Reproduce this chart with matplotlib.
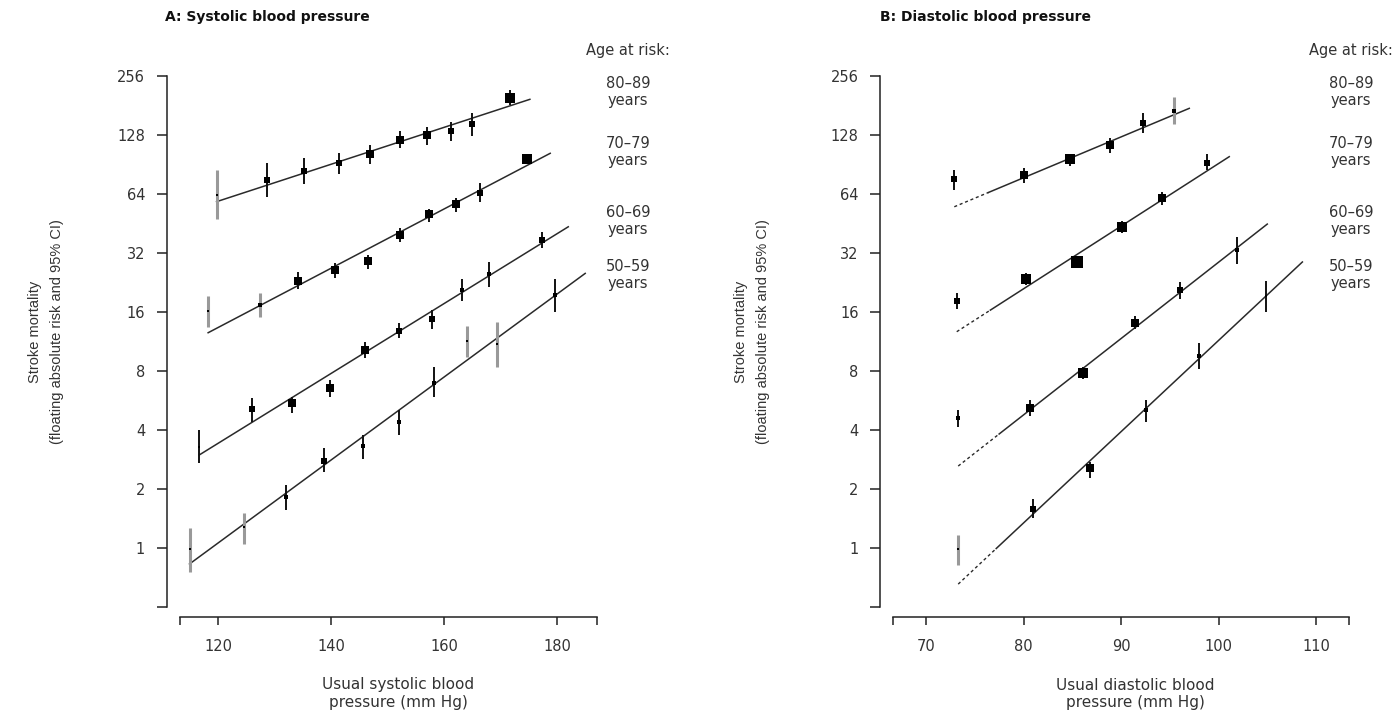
import numpy as np
import matplotlib
matplotlib.use("Agg")
import matplotlib.pyplot as plt

# ---------------- data ----------------
# Panel A: systolic blood pressure (mm Hg) vs stroke mortality, by age group
sbp_80 = [119.7, 128.6, 135.2, 141.3, 146.9, 152.2, 156.9, 161.3, 165.0, 171.7]
risk_s80 = [63.0, 75.1, 83.6, 92.1, 102.1, 120.3, 127.5, 133.7, 144.6, 197.7]
lo_s80 = [47.6, 61.8, 71.7, 80.7, 90.7, 109.0, 113.4, 118.9, 126.0, 181.4]
hi_s80 = [84.7, 91.5, 97.3, 103.6, 113.4, 134.0, 140.6, 149.0, 164.6, 216.5]

sbp_70 = [118.2, 127.3, 134.2, 140.6, 146.6, 152.2, 157.4, 162.1, 166.4, 174.6]
risk_s70 = [16.1, 17.3, 23.0, 26.1, 29.0, 39.5, 50.2, 56.7, 64.8, 95.9]
lo_s70 = [13.3, 15.1, 20.8, 23.7, 26.4, 36.4, 46.1, 51.8, 58.3, 90.7]
hi_s70 = [19.3, 20.0, 25.6, 28.3, 31.1, 42.6, 53.3, 60.6, 72.3, 100.8]

sbp_60 = [116.6, 126.0, 133.1, 139.8, 146.0, 152.1, 157.8, 163.1, 168.0, 177.3]
risk_s60 = [3.25, 5.08, 5.45, 6.55, 10.2, 12.8, 14.7, 20.6, 24.9, 37.1]
lo_s60 = [2.70, 4.39, 4.88, 5.89, 9.25, 11.7, 13.1, 18.2, 21.5, 33.7]
hi_s60 = [3.99, 5.78, 5.89, 7.17, 11.25, 14.06, 16.3, 23.4, 28.8, 41.0]

sbp_50 = [114.9, 124.6, 132.0, 138.8, 145.7, 152.1, 158.2, 164.0, 169.3, 179.6]
risk_s50 = [0.98, 1.27, 1.82, 2.78, 3.32, 4.39, 6.95, 11.3, 11.0, 19.5]
lo_s50 = [0.754, 1.04, 1.56, 2.44, 2.83, 3.76, 5.89, 9.36, 8.33, 15.9]
hi_s50 = [1.26, 1.51, 2.09, 3.22, 3.76, 5.04, 8.33, 13.5, 14.2, 23.4]

# fitted lines (end points, x in mm Hg, y in risk)
fit_sx = [[119.7, 175.2], [118.2, 178.8], [116.6, 182.0], [114.9, 185.0]]
fit_sy = [[58.3, 194.0], [12.5, 102.9], [2.97, 43.4], [0.826, 25.1]]

# Panel B: diastolic blood pressure
dbp_80 = [72.9, 80.05, 84.8, 88.9, 92.3, 95.4]
risk_d80 = [75.8, 79.7, 95.9, 113.4, 147.4, 169.7]
lo_d80 = [66.7, 72.8, 88.6, 102.9, 131.0, 145.0]
hi_d80 = [84.3, 86.3, 101.7, 122.7, 164.6, 200.0]

dbp_70 = [73.15, 80.3, 85.5, 90.1, 94.2, 98.8]
risk_d70 = [18.2, 23.5, 28.8, 43.1, 60.6, 92.1]
lo_d70 = [16.5, 21.8, 27.0, 40.3, 56.0, 84.6]
hi_d70 = [20.0, 25.3, 30.7, 46.2, 65.5, 102.0]

dbp_60 = [73.3, 80.7, 86.1, 91.4, 96.05, 101.9]
risk_d60 = [4.57, 5.14, 7.81, 14.06, 20.6, 33.0]
lo_d60 = [4.11, 4.70, 7.30, 13.1, 18.5, 28.0]
hi_d60 = [5.04, 5.66, 8.40, 15.2, 22.8, 38.5]

dbp_50 = [73.3, 81.0, 86.8, 92.6, 98.0, 104.9]
risk_d50 = [0.98, 1.58, 2.54, 5.04, 9.51, 19.3]
lo_d50 = [0.816, 1.41, 2.26, 4.39, 8.13, 16.0]
hi_d50 = [1.16, 1.77, 2.75, 5.67, 11.1, 23.0]

fit_dx = [[72.9, 97.0], [73.15, 101.1], [73.3, 105.0], [73.3, 108.6]]
fit_dy = [[54.9, 174.5], [12.65, 98.9], [2.61, 44.8], [0.652, 28.7]]
fit_d_solid_from = [76.4, 76.6, 77.5, 77.2]

age_groups = ["80\u201389", "70\u201379", "60\u201369", "50\u201359"]
y_ticks = [0.5, 1, 2, 4, 8, 16, 32, 64, 128, 256]
y_ticklabels = ["", "1", "2", "4", "8", "16", "32", "64", "128", "256"]
sx_ticks = [113.2, 120, 140, 160, 180, 187.1]
sx_ticklabels = ["", "120", "140", "160", "180", ""]
dx_ticks = [66.6, 70, 80, 90, 100, 110, 113.4]
dx_ticklabels = ["", "70", "80", "90", "100", "110", ""]

# ---------------- styles ----------------
# square side (px) and grey-CI flags
s_size = [[1.5, 5, 6, 6, 7, 8, 7, 6, 5, 10],
          [1.5, 3, 7, 8, 8, 8, 8, 7, 6, 10],
          [2, 5, 7, 7, 7, 6, 5, 4, 3, 6],
          [1.5, 2, 4, 5, 4, 3, 3, 2, 1.5, 3]]
s_grey = [[1, 0, 0, 0, 0, 0, 0, 0, 0, 0],
          [1, 1, 0, 0, 0, 0, 0, 0, 0, 0],
          [0, 0, 0, 0, 0, 0, 0, 0, 0, 0],
          [1, 1, 0, 0, 0, 0, 0, 1, 1, 0]]
d_size = [[6, 8, 9, 7, 6, 4],
          [6, 9, 11, 9, 7, 6],
          [4, 7, 9, 7, 5, 3],
          [2, 6, 7, 3, 3, 2]]
d_grey = [[0, 0, 0, 0, 0, 1],
          [0, 0, 0, 0, 0, 0],
          [0, 0, 0, 0, 0, 0],
          [1, 0, 0, 0, 0, 0]]

TXT = "#333333"
W, H = 1400, 713
fig = plt.figure(figsize=(W / 100, H / 100), dpi=100)


def px_axes(l, t, r, b):
    return fig.add_axes([l / W, 1 - b / H, (r - l) / W, (b - t) / H])


def style_axes(ax, xlim, xticks, xticklabels):
    ax.set_yscale("log", base=2)
    ax.set_ylim(0.441, 273.8)
    ax.set_xlim(*xlim)
    ax.patch.set_visible(False)
    for s in ("top", "right"):
        ax.spines[s].set_visible(False)
    ax.spines["left"].set_bounds(y_ticks[0], y_ticks[-1])
    ax.spines["bottom"].set_bounds(xticks[0], xticks[-1])
    for s in ("left", "bottom"):
        ax.spines[s].set_linewidth(1.1)
        ax.spines[s].set_color("#222222")
    ax.set_yticks(y_ticks)
    ax.set_yticklabels(y_ticklabels)
    ax.yaxis.set_minor_locator(matplotlib.ticker.NullLocator())
    ax.set_xticks(xticks)
    ax.set_xticklabels(xticklabels)
    ax.tick_params(axis="y", length=7.5, width=1.1, pad=8, labelsize=10.5,
                   labelcolor=TXT, color="#222222")
    ax.tick_params(axis="x", length=5.5, width=1.1, pad=10, labelsize=10.5,
                   labelcolor=TXT, color="#222222")


def draw_points(ax, xs, ys, los, his, sizes, greys):
    for x, y, lo, hi, sz, g in zip(xs, ys, los, his, sizes, greys):
        if g:
            ax.vlines(x, lo, hi, colors="#999999", linewidth=2.2, zorder=2)
        else:
            ax.vlines(x, lo, hi, colors="#111111", linewidth=1.4, zorder=2)
        ax.scatter([x], [y], marker="s", s=((sz + 1) / 1.389) ** 2, c="black",
                   linewidths=0, zorder=3)


axA = px_axes(166.7, 70, 600, 617.4)
axB = px_axes(880, 70, 1360, 617.4)
style_axes(axA, (110.86, 187.62), sx_ticks, sx_ticklabels)
style_axes(axB, (65.28, 114.51), dx_ticks, dx_ticklabels)

sys_sets = [(sbp_80, risk_s80, lo_s80, hi_s80), (sbp_70, risk_s70, lo_s70, hi_s70),
            (sbp_60, risk_s60, lo_s60, hi_s60), (sbp_50, risk_s50, lo_s50, hi_s50)]
dia_sets = [(dbp_80, risk_d80, lo_d80, hi_d80), (dbp_70, risk_d70, lo_d70, hi_d70),
            (dbp_60, risk_d60, lo_d60, hi_d60), (dbp_50, risk_d50, lo_d50, hi_d50)]

for i, (xs, ys, los, his) in enumerate(sys_sets):
    axA.plot(fit_sx[i], fit_sy[i], color="#2a2a2a", linewidth=1.1, zorder=1)
    draw_points(axA, xs, ys, los, his, s_size[i], s_grey[i])

for i, (xs, ys, los, his) in enumerate(dia_sets):
    x0, x1 = fit_dx[i]
    ly0, ly1 = np.log2(fit_dy[i])
    xm = fit_d_solid_from[i]
    ym = 2 ** (ly0 + (ly1 - ly0) * (xm - x0) / (x1 - x0))
    axB.plot([x0, xm], [fit_dy[i][0], ym], color="#2a2a2a", linewidth=1.0,
             linestyle=(0, (2.2, 2.0)), zorder=1)
    axB.plot([xm, x1], [ym, fit_dy[i][1]], color="#2a2a2a", linewidth=1.1, zorder=1)
    draw_points(axB, xs, ys, los, his, d_size[i], d_grey[i])

# ---------------- text ----------------
def ft(x, y, s, **kw):
    fig.text(x / W, 1 - y / H, s, **kw)

ft(165, 17, "A: Systolic blood pressure", fontsize=10, fontweight="bold",
   color="#111111", va="center", ha="left")
ft(880, 17, "B: Diastolic blood pressure", fontsize=10, fontweight="bold",
   color="#111111", va="center", ha="left")

ylab = "Stroke mortality\n(floating absolute risk and 95% CI)"
for xc in (46, 752):
    ft(xc, 332, ylab, rotation=90, ha="center", va="center", fontsize=10.5,
       color=TXT, family=["Liberation Sans Narrow", "Liberation Sans"],
       linespacing=1.65)

ft(398, 694, "Usual systolic blood\npressure (mm Hg)", ha="center", va="center",
   fontsize=11, color=TXT, linespacing=1.25)
ft(1135, 694, "Usual diastolic blood\npressure (mm Hg)", ha="center", va="center",
   fontsize=11, color=TXT, linespacing=1.25)

age_y = [92, 152, 221, 275]
for xc in (628, 1351):
    ft(xc, 51, "Age at risk:", ha="center", va="center", fontsize=10.5, color=TXT)
    for g, yy in zip(age_groups, age_y):
        ft(xc, yy, g + "\nyears", ha="center", va="center", fontsize=10.5,
           color=TXT, linespacing=1.2)

fig.savefig("out.png", dpi=100, facecolor="white")
